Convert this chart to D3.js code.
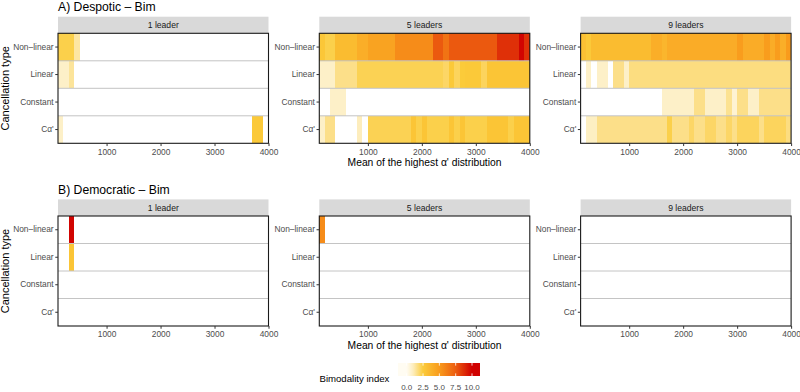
<!DOCTYPE html>
<html>
<head>
<meta charset="utf-8">
<script src="https://cdn.jsdelivr.net/npm/d3@7"></script>
<style>
  body { margin: 0; background: #fff; }
  svg { font-family: "Liberation Sans", Arial, Helvetica, sans-serif; }
</style>
</head>
<body>
<svg id="drawing_region"></svg>
<script>
const _ = null;

const cancelTypes = ["Non–linear", "Linear", "Constant", "Cα'"];
const leaderLabels = ["1 leader", "5 leaders", "9 leaders"];
const binStart = [100, 200, 300, 400, 500, 600, 700, 800, 900, 1000,
    1100, 1200, 1300, 1400, 1500, 1600, 1700, 1800, 1900, 2000,
    2100, 2200, 2300, 2400, 2500, 2600, 2700, 2800, 2900, 3000,
    3100, 3200, 3300, 3400, 3500, 3600, 3700, 3800, 3900];
const binWidth = 100;
const xTicks = [1000, 2000, 3000, 4000];
const legendTicks = [0, 2.5, 5, 7.5, 10];

// bimodality index per bin, index = position in binStart, null/missing = no tile
// A) Despotic
const desp1_nonlinear = [2.3, 2.3, 2.3, 1.3];
const desp1_linear = [0.8, 0.8, 1.4];
const desp1_constant = [];
const desp1_calpha = [0.8, _, _, _, _, _, _, _, _, _,
    _, _, _, _, _, _, _, _, _, _,
    _, _, _, _, _, _, _, _, _, _,
    _, _, _, _, _, _, 2.6, 2.6];

const desp5_nonlinear = [2.7, 2.3, 2.3, 3.3, 3.3, 3.3, 3.3, 4.0, 4.0, 4.6,
    4.6, 4.6, 4.6, 4.6, 5.6, 5.6, 5.6, 5.6, 5.6, 5.6,
    5.6, 7.6, 7.6, 6.6, 7.6, 7.6, 7.6, 7.6, 7.6, 7.6,
    7.6, 7.6, 7.6, 8.7, 8.7, 8.7, 8.7, 9.9, 8.7];
const desp5_linear = [0.8, 0.8, 0.8, 1.6, 1.6, 1.6, 1.6, 2.2, 2.2, 2.2,
    2.2, 2.2, 2.2, 2.2, 2.2, 2.2, 2.2, 2.2, 2.2, 2.2,
    2.2, 2.2, 2.2, 2.0, 2.6, 2.1, 2.5, 2.6, 2.6, 2.6,
    2.1, 2.8, 2.8, 2.8, 2.8, 2.8, 2.8, 2.8, 2.8];
const desp5_constant = [_, _, 0.8, 0.8, 0.8];
const desp5_calpha = [0.8, 1.6, 1.6, _, _, _, _, 1.0, _, 2.2,
    2.2, 2.2, 2.2, 2.2, 2.2, 2.2, 2.2, 2.8, 2.3, 2.8,
    2.3, 2.3, 2.3, 2.3, 2.8, 2.3, 2.8, 2.3, 2.3, 2.3,
    2.3, 2.8, 2.8, 2.8, 2.8, 2.3, 2.8, 2.8, 2.8];

const desp9_nonlinear = [3.0, 2.6, 3.3, 3.3, 3.3, 3.3, 3.3, 3.3, 3.3, 3.3,
    3.3, 3.3, 3.3, 4.0, 4.0, 3.6, 4.1, 4.1, 4.1, 4.1,
    4.1, 4.1, 4.1, 4.1, 4.1, 4.1, 4.1, 4.1, 4.1, 4.9,
    4.1, 4.1, 4.1, 4.1, 4.9, 4.1, 4.9, 4.0, 5.0];
const desp9_linear = [_, 0.8, _, 0.8, 0.8, _, 1.6, 1.6, 0.8, 1.7,
    1.7, 1.7, 1.7, 1.7, 1.7, 1.7, 1.7, 1.7, 1.7, 1.7,
    1.7, 1.7, 1.7, 1.7, 1.7, 1.7, 1.7, 1.7, 1.7, 1.7,
    1.7, 1.7, 1.7, 1.7, 1.7, 1.7, 1.7, 1.7, 1.7];
const desp9_constant = [_, _, _, _, _, _, _, _, _, _,
    _, _, _, _, _, 0.8, 0.8, 0.8, 0.8, 0.8,
    0.8, 1.6, 1.6, 0.8, 0.8, 0.8, 0.8, 1.5, 0.6, 1.6,
    1.6, 0.8, 0.8, 1.6, 1.6, 1.6, 1.6, 1.6, 1.6];
const desp9_calpha = [_, 0.9, 0.9, 1.6, 1.6, 1.6, 1.6, 1.6, 1.6, 1.6,
    1.6, 1.6, 1.6, 1.6, 1.6, 1.6, 2.3, 1.6, 1.6, 1.6,
    2.0, 1.6, 1.6, 2.0, 2.0, 1.6, 1.6, 2.0, 1.6, 2.1,
    2.1, 2.1, 2.1, 1.6, 2.1, 2.1, 2.1, 2.1, 1.7];

// B) Democratic
const demo1_nonlinear = [_, _, 9.9];
const demo1_linear = [_, _, 2.8];
const demo1_constant = [];
const demo1_calpha = [];
const demo5_nonlinear = [5.6];
const demo5_linear = [];
const demo5_constant = [];
const demo5_calpha = [];
const demo9_nonlinear = [];
const demo9_linear = [];
const demo9_constant = [];
const demo9_calpha = [];

const groups = [
    {
        title: "A) Despotic – Bim", top: 0,
        panels: [
            [desp1_nonlinear, desp1_linear, desp1_constant, desp1_calpha],
            [desp5_nonlinear, desp5_linear, desp5_constant, desp5_calpha],
            [desp9_nonlinear, desp9_linear, desp9_constant, desp9_calpha]
        ]
    },
    {
        title: "B) Democratic – Bim", top: 182.7,
        panels: [
            [demo1_nonlinear, demo1_linear, demo1_constant, demo1_calpha],
            [demo5_nonlinear, demo5_linear, demo5_constant, demo5_calpha],
            [demo9_nonlinear, demo9_linear, demo9_constant, demo9_calpha]
        ]
    }
];

const W = 800, H = 392;
const panelLeft = [58, 319.3, 580.6];
const panelW = 210.5;
const stripTop = 16.7, stripH = 16.6, panelTop = 33.3, panelH = 110;

const color = d3.scaleLinear()
    .domain([0, 1, 2.5, 5, 7.5, 10])
    .range(["#FFFCF2", "#FDEDBD", "#FBCB3A", "#F99B1C", "#EC5D10", "#D00000"])
    .clamp(true);

const svg = d3.select('#drawing_region')
    .attr('width', W)
    .attr('height', H);

svg.append('rect').attr('width', W).attr('height', H).attr('fill', '#fff');

groups.forEach(g => {
    svg.append('text')
        .attr('x', 58)
        .attr('y', g.top + 11.3)
        .attr('font-size', '12.2px')
        .attr('fill', '#000')
        .text(g.title);

    svg.append('text')
        .attr('transform', `translate(8.6, ${g.top + panelTop + panelH / 2}) rotate(-90)`)
        .attr('text-anchor', 'middle')
        .attr('font-size', '11px')
        .attr('fill', '#000')
        .text("Cancellation type");

    g.panels.forEach((rows, j) => {
        const left = panelLeft[j];
        const x = d3.scaleLinear().domain([100, 4000]).range([left, left + panelW]);
        const y = d3.scaleBand().domain(cancelTypes)
            .range([g.top + panelTop, g.top + panelTop + panelH]);

        // strip
        svg.append('rect')
            .attr('x', left).attr('y', g.top + stripTop)
            .attr('width', panelW).attr('height', stripH)
            .attr('fill', '#D9D9D9');
        svg.append('text')
            .attr('x', left + panelW / 2)
            .attr('y', g.top + stripTop + stripH / 2)
            .attr('dy', '0.36em')
            .attr('text-anchor', 'middle')
            .attr('font-size', '8.6px')
            .attr('fill', '#1A1A1A')
            .text(leaderLabels[j]);

        // tiles
        const cells = [];
        rows.forEach((vals, r) => {
            vals.forEach((v, i) => {
                if (v !== null && v !== undefined) {
                    cells.push({ type: cancelTypes[r], start: binStart[i], value: v });
                }
            });
        });

        svg.append('g')
            .attr('shape-rendering', 'crispEdges')
            .selectAll('rect')
            .data(cells)
            .enter()
            .append('rect')
            .attr('x', d => x(d.start))
            .attr('width', d => x(d.start + binWidth) - x(d.start))
            .attr('y', d => y(d.type))
            .attr('height', y.bandwidth())
            .attr('fill', d => color(d.value));

        // row separators
        svg.append('g')
            .selectAll('line')
            .data(cancelTypes.slice(0, 3))
            .enter()
            .append('line')
            .attr('x1', left).attr('x2', left + panelW)
            .attr('y1', d => y(d) + y.bandwidth())
            .attr('y2', d => y(d) + y.bandwidth())
            .attr('stroke', '#C4C4C4')
            .attr('stroke-width', 1);

        // border
        svg.append('rect')
            .attr('x', left).attr('y', g.top + panelTop)
            .attr('width', panelW).attr('height', panelH)
            .attr('fill', 'none')
            .attr('stroke', '#1A1A1A')
            .attr('stroke-width', 1.1);

        // axes
        const yAxis = svg.append('g')
            .attr('transform', `translate(${left}, 0)`)
            .call(d3.axisLeft(y).tickSize(2.75).tickPadding(1.6));
        const xAxis = svg.append('g')
            .attr('transform', `translate(0, ${g.top + panelTop + panelH})`)
            .call(d3.axisBottom(x).tickValues(xTicks).tickFormat(d3.format('d'))
                .tickSize(2.75).tickPadding(2.6));

        [yAxis, xAxis].forEach(a => {
            a.select('.domain').remove();
            a.selectAll('.tick line').attr('stroke', '#333').attr('stroke-width', 1);
            a.selectAll('.tick text')
                .attr('fill', '#4D4D4D')
                .attr('font-size', '8.4px')
                .attr('font-family', '"Liberation Sans", Arial, Helvetica, sans-serif');
        });

        if (j === 1) {
            svg.append('text')
                .attr('x', left + panelW / 2)
                .attr('y', g.top + 166)
                .attr('text-anchor', 'middle')
                .attr('font-size', '10.3px')
                .attr('fill', '#000')
                .text("Mean of the highest α' distribution");
        }
    });
});

// legend
const legX = d3.scaleLinear().domain([0, 10]).range([406.7, 472]);
const barL = 398, barR = 480, barT = 363, barH = 13;

const grad = svg.append('defs').append('linearGradient')
    .attr('id', 'bimGrad')
    .attr('x1', '0%').attr('x2', '100%');
d3.range(0, 101, 2).forEach(p => {
    const px = barL + p / 100 * (barR - barL);
    grad.append('stop')
        .attr('offset', p + '%')
        .attr('stop-color', color(legX.invert(px)));
});

svg.append('rect')
    .attr('x', barL).attr('y', barT)
    .attr('width', barR - barL).attr('height', barH)
    .attr('fill', 'url(#bimGrad)');

svg.append('g')
    .selectAll('g')
    .data(legendTicks)
    .enter()
    .append('g')
    .each(function (d) {
        const gg = d3.select(this);
        gg.append('line')
            .attr('x1', legX(d)).attr('x2', legX(d))
            .attr('y1', barT).attr('y2', barT + 2.6)
            .attr('stroke', '#fff').attr('stroke-width', 0.8);
        gg.append('line')
            .attr('x1', legX(d)).attr('x2', legX(d))
            .attr('y1', barT + barH - 2.6).attr('y2', barT + barH)
            .attr('stroke', '#fff').attr('stroke-width', 0.8);
    });

svg.append('g')
    .selectAll('text')
    .data(legendTicks)
    .enter()
    .append('text')
    .attr('x', d => legX(d))
    .attr('y', 389.5)
    .attr('text-anchor', 'middle')
    .attr('font-size', '8px')
    .attr('fill', '#4D4D4D')
    .text(d => d.toFixed(1));

svg.append('text')
    .attr('x', 319.5)
    .attr('y', 382.3)
    .attr('font-size', '9.6px')
    .attr('fill', '#000')
    .text("Bimodality index");
</script>
</body>
</html>
